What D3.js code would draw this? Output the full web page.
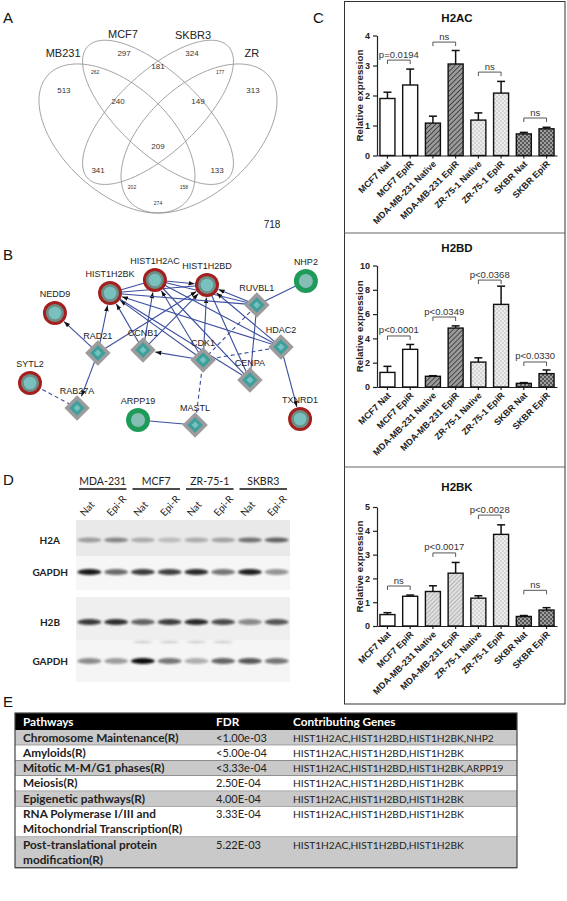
<!DOCTYPE html>
<html><head><meta charset="utf-8">
<script src="https://cdn.jsdelivr.net/npm/d3@7/dist/d3.min.js"></script>
<style>body{margin:0;background:#fff}svg{display:block}</style>
</head><body><svg id="fig" width="567" height="901"></svg>
<script>
// ================= DATA =================
// Panel A : Venn
const vennSets = ["MB231", "MCF7", "SKBR3", "ZR"];
const vennCounts = [513, 297, 324, 313, 262, 181, 177, 240, 149, 209, 341, 133, 202, 158, 274];
const vennSmall = [false, false, false, false, true, false, true, false, false, false, false, false, true, true, true];
const vennOutside = 718;
// Panel B : network
const netNodes = ["HIST1H2BK","HIST1H2AC","HIST1H2BD","NEDD9","SYTL2","RAD21","CCNB1","CDK1","CENPA","RUVBL1","HDAC2","RAB27A","ARPP19","MASTL","NHP2","TXNRD1"];
const netKinds = ["hist","hist","hist","hist","hist","dia","dia","dia","dia","dia","dia","dia","green","dia","green","hist"];
const netEdges = [
  ["RAD21","NEDD9","a"],["RAD21","RAB27A","a"],["RAD21","HIST1H2BK","a"],["RAD21","HIST1H2BD","a"],
  ["CCNB1","HIST1H2BK","a"],["CCNB1","HIST1H2AC","a"],["CCNB1","HIST1H2BD","a"],
  ["CDK1","CCNB1","a"],["CDK1","HIST1H2BK","a"],["CDK1","HIST1H2AC","a"],["CDK1","HIST1H2BD","a"],
  ["CENPA","HIST1H2BK","s"],["CENPA","HIST1H2AC","s"],["CENPA","HIST1H2BD","s"],["CENPA","RUVBL1","s"],
  ["RUVBL1","HIST1H2BK","s"],["RUVBL1","HIST1H2AC","s"],["RUVBL1","HIST1H2BD","a"],["RUVBL1","NHP2","s"],
  ["HDAC2","HIST1H2BK","a"],["HDAC2","HIST1H2AC","s"],["HDAC2","HIST1H2BD","a"],["HDAC2","TXNRD1","a"],
  ["HIST1H2BK","HIST1H2AC","s"],["HIST1H2BK","HIST1H2BD","s"],["HIST1H2AC","HIST1H2BD","a"],
  ["CDK1","RUVBL1","d"],["CDK1","HDAC2","d"],["CDK1","MASTL","d"],["SYTL2","RAB27A","d"],["ARPP19","MASTL","s"]
];
// Panel C : qPCR bars
const barCats = ["MCF7 Nat","MCF7 EpiR","MDA-MB-231 Native","MDA-MB-231 EpiR","ZR-75-1 Native","ZR-75-1 EpiR","SKBR Nat","SKBR EpiR"];
const h2acMean = [1.9, 2.35, 1.08, 3.05, 1.18, 2.08, 0.72, 0.89];
const h2acErr  = [0.21, 0.53, 0.23, 0.45, 0.24, 0.39, 0.05, 0.05];
const h2bdMean = [1.2, 3.1, 0.88, 4.85, 2.05, 6.8, 0.3, 1.1];
const h2bdErr  = [0.5, 0.4, 0.05, 0.18, 0.35, 1.5, 0.06, 0.3];
const h2bkMean = [0.48, 1.25, 1.45, 2.22, 1.17, 3.85, 0.4, 0.67];
const h2bkErr  = [0.08, 0.05, 0.24, 0.45, 0.1, 0.4, 0.04, 0.1];
const h2acTests = [[0,1,"p=0.0194",3.18],[2,3,"ns",3.78],[4,5,"ns",2.78],[6,7,"ns",1.25]];
const h2bdTests = [[0,1,"p<0.0001",4.2],[2,3,"p<0.0349",5.76],[4,5,"p<0.0368",8.8],[6,7,"p<0.0330",2.06]];
const h2bkTests = [[0,1,"ns",1.68],[2,3,"p<0.0017",3.07],[4,5,"p<0.0028",4.66],[6,7,"ns",1.5]];
// Panel D : western blot
const blotGroups = ["MDA-231","MCF7","ZR-75-1","SKBR3"];
const blotLanes = ["Nat","Epi-R","Nat","Epi-R","Nat","Epi-R","Nat","Epi-R"];
const blotRows = ["H2A","GAPDH","H2B","GAPDH"];
const bandH2A   = [0.35, 0.45, 0.28, 0.2, 0.28, 0.32, 0.55, 0.62];
const bandGAPDH1= [0.95, 0.6, 0.8, 0.78, 0.88, 0.55, 0.92, 0.42];
const bandH2B   = [0.8, 0.85, 0.62, 0.78, 0.88, 0.72, 0.45, 0.68];
const bandGAPDH2= [0.45, 0.38, 1.0, 0.55, 0.3, 0.62, 0.68, 0.55];
// Panel E : table
const tableHeader = ["Pathways","FDR","Contributing Genes"];
const pathways = [["Chromosome Maintenance(R)"],["Amyloids(R)"],["Mitotic M-M/G1 phases(R)"],["Meiosis(R)"],["Epigenetic pathways(R)"],["RNA Polymerase I/III and","Mitochondrial Transcription(R)"],["Post-translational protein","modification(R)"]];
const fdrs = ["<1.00e-03","<5.00e-04","<3.33e-04","2.50E-04","4.00E-04","3.33E-04","5.22E-03"];
const genes = ["HIST1H2AC,HIST1H2BD,HIST1H2BK,NHP2","HIST1H2AC,HIST1H2BD,HIST1H2BK","HIST1H2AC,HIST1H2BD,HIST1H2BK,ARPP19","HIST1H2AC,HIST1H2BD,HIST1H2BK","HIST1H2AC,HIST1H2BD,HIST1H2BK","HIST1H2AC,HIST1H2BD,HIST1H2BK","HIST1H2AC,HIST1H2BD,HIST1H2BK"];

// ================= LAYOUT =================
const F = "'Liberation Sans', Arial, sans-serif";
const FC = "Lato, 'Open Sans', sans-serif";
const svg = d3.select("#fig");
const defs = svg.append("defs");

// panel letters
[["A",3,23],["B",3,260],["C",313,23],["D",3,485],["E",3,707]].forEach(p=>{
  svg.append("text").attr("x",p[1]).attr("y",p[2]).text(p[0]).attr("font-family",F).attr("font-size",15).attr("fill","#111");
});

// ---------- A: Venn ----------
const vennEllipse = [[0.35,0.47,0.35,0.20,135],[0.50,0.57,0.36,0.15,135],[0.50,0.57,0.36,0.15,45],[0.65,0.47,0.35,0.20,45]];
const vennLabelPos = [[0.153,0.797],[0.372,0.870],[0.628,0.866],[0.843,0.797]];
const vennCountPos = [[0.156,0.655],[0.376,0.797],[0.624,0.797],[0.847,0.655],[0.270,0.724],[0.5,0.747],[0.727,0.724],[0.354,0.613],[0.646,0.613],[0.5,0.441],[0.281,0.350],[0.716,0.350],[0.405,0.284],[0.595,0.284],[0.5,0.223]];
const sx = d3.scaleLinear().domain([0.065,0.935]).range([39,277]);
const sy = d3.scaleLinear().domain([0.185,0.839]).range([213,42]);
const gA = svg.append("g");
const eLine = d3.line().x(d=>sx(d[0])).y(d=>sy(d[1])).curve(d3.curveLinearClosed);
vennEllipse.forEach(e=>{
  const th = e[4]*Math.PI/180;
  const pts = d3.range(0,360,2).map(t=>{const r=t*Math.PI/180;
    return [e[0]+e[2]*Math.cos(th)*Math.cos(r)-e[3]*Math.sin(th)*Math.sin(r), e[1]+e[2]*Math.sin(th)*Math.cos(r)+e[3]*Math.cos(th)*Math.sin(r)];});
  gA.append("path").attr("d",eLine(pts)).attr("fill","none").attr("stroke","#8a8a8a").attr("stroke-width",0.8);
});
gA.selectAll(".vl").data(vennSets).join("text").attr("x",(d,i)=>sx(vennLabelPos[i][0])).attr("y",(d,i)=>sy(vennLabelPos[i][1])+4)
  .attr("text-anchor","middle").attr("font-family",F).attr("font-size",11).attr("fill","#222").text(d=>d);
gA.selectAll(".vc").data(vennCounts).join("text").attr("x",(d,i)=>sx(vennCountPos[i][0])).attr("y",(d,i)=>sy(vennCountPos[i][1])+(vennSmall[i]?2:3))
  .attr("text-anchor","middle").attr("font-family",F).attr("font-size",(d,i)=>vennSmall[i]?5:8).attr("fill","#333").text(d=>d);
gA.append("text").attr("x",sx(0.917)).attr("y",228).attr("text-anchor","middle").attr("font-family",F).attr("font-size",10).attr("fill","#222").text(vennOutside);

// ---------- B: network ----------
const netPos = [[0.289,0.09],[0.451,0.0],[0.639,0.034],[0.09,0.228],[0.0,0.71],[0.245,0.503],[0.408,0.483],[0.625,0.552],[0.794,0.69],[0.819,0.172],[0.906,0.462],[0.17,0.883],[0.39,0.966],[0.596,1.0],[0.996,0.007],[0.975,0.959]];
const nx = d3.scaleLinear().domain([0,1]).range([30,307]);
const ny = d3.scaleLinear().domain([0,1]).range([280,425]);
const gB = svg.append("g");
defs.append("marker").attr("id","arr").attr("viewBox","0 -4 8 8").attr("refX",8).attr("refY",0)
  .attr("markerWidth",6).attr("markerHeight",6).attr("markerUnits","userSpaceOnUse").attr("orient","auto")
  .append("path").attr("d","M0,-3L8,0L0,3Z").attr("fill","#111");
const nodeIdx = n=>netNodes.indexOf(n);
netEdges.forEach(e=>{
  const s=netPos[nodeIdx(e[0])], t=netPos[nodeIdx(e[1])];
  const x1=nx(s[0]),y1=ny(s[1]),x2=nx(t[0]),y2=ny(t[1]);
  const L=Math.hypot(x2-x1,y2-y1), rr = e[2]==="a"?12.5:0;
  const ln = gB.append("line").attr("x1",x1).attr("y1",y1).attr("x2",x2-(x2-x1)*rr/L).attr("y2",y2-(y2-y1)*rr/L)
    .attr("stroke","#3c4f9e").attr("stroke-width",1.1);
  if(e[2]==="d") ln.attr("stroke-dasharray","4,3");
  if(e[2]==="a") ln.attr("marker-end","url(#arr)");
});
netNodes.forEach((n,i)=>{
  const cx=nx(netPos[i][0]), cy=ny(netPos[i][1]), k=netKinds[i];
  const g=gB.append("g").attr("transform",`translate(${cx},${cy})`);
  if(k==="hist"){
    g.append("circle").attr("r",12).attr("fill","#a3201f");
    g.append("circle").attr("r",9).attr("fill","#6f8c86");
    g.append("circle").attr("r",6.3).attr("fill","#79c1bf");
  } else if(k==="green"){
    g.append("circle").attr("r",12).attr("fill","#1f9b59");
    g.append("circle").attr("r",7).attr("fill","#86bdb5");
  } else {
    g.append("rect").attr("x",-9).attr("y",-9).attr("width",18).attr("height",18).attr("transform","rotate(45)").attr("fill","#9c9c9c");
    g.append("rect").attr("x",-5.5).attr("y",-5.5).attr("width",11).attr("height",11).attr("transform","rotate(45)").attr("fill","#3f9f9c");
    g.append("rect").attr("x",-2.5).attr("y",-2.5).attr("width",5).attr("height",5).attr("transform","rotate(45)").attr("fill","#74c2be");
  }
});
netNodes.forEach((n,i)=>{
  const cx=nx(netPos[i][0]), cy=ny(netPos[i][1]), k=netKinds[i];
  gB.append("text").attr("x",cx).attr("y",cy-(k==="dia"?14:16)).attr("text-anchor","middle").attr("font-family",F)
    .attr("font-size",9).attr("fill","#222").text(n);
});

// ---------- C: bar charts ----------
function pat(id, bg, draw){
  const p=defs.append("pattern").attr("id",id).attr("patternUnits","userSpaceOnUse").attr("width",4).attr("height",4);
  p.append("rect").attr("width",4).attr("height",4).attr("fill",bg); draw(p); return `url(#${id})`;
}
const fWhite="#ffffff";
const fHatchDark = (()=>{const p=defs.append("pattern").attr("id","hd").attr("patternUnits","userSpaceOnUse").attr("width",3.5).attr("height",3.5).attr("patternTransform","rotate(45)");
  p.append("rect").attr("width",3.5).attr("height",3.5).attr("fill","#9a9a9a"); p.append("line").attr("x1",0).attr("y1",0).attr("x2",0).attr("y2",3.5).attr("stroke","#333").attr("stroke-width",1.6); return "url(#hd)";})();
const fHatchLight = (()=>{const p=defs.append("pattern").attr("id","hl").attr("patternUnits","userSpaceOnUse").attr("width",3).attr("height",3).attr("patternTransform","rotate(45)");
  p.append("rect").attr("width",3).attr("height",3).attr("fill","#e0e0e0"); p.append("line").attr("x1",0).attr("y1",0).attr("x2",0).attr("y2",3).attr("stroke","#8a8a8a").attr("stroke-width",1); return "url(#hl)";})();
const fDots = pat("dt","#ededed",p=>{p.append("circle").attr("cx",1).attr("cy",1).attr("r",0.7).attr("fill","#a8a8a8");p.append("circle").attr("cx",3).attr("cy",3).attr("r",0.7).attr("fill","#a8a8a8");});
const fCheck = pat("ck","#a0a0a0",p=>{p.append("rect").attr("width",2).attr("height",2).attr("fill","#555");p.append("rect").attr("x",2).attr("y",2).attr("width",2).attr("height",2).attr("fill","#555");});

function barPanel(o){
  const g=svg.append("g");
  const x=d3.scaleBand().domain(barCats).range([377,557]).paddingInner(0.34).paddingOuter(0.13);
  const y=d3.scaleLinear().domain([0,o.ymax]).range([o.y0,o.y1]);
  g.append("text").attr("x",457).attr("y",o.titleY).attr("text-anchor","middle").attr("font-family",F).attr("font-weight","bold").attr("font-size",11.5).attr("fill","#111").text(o.title);
  const ya=g.append("g").attr("transform","translate(377,0)").call(d3.axisLeft(y).tickValues(d3.range(0,o.ymax+0.001,o.step)).tickSize(4).tickSizeOuter(0).tickFormat(d3.format("d")));
  ya.selectAll("text").attr("font-family",F).attr("font-weight","bold").attr("font-size",9).attr("fill","#222");
  ya.selectAll("line,path").attr("stroke","#222").attr("stroke-width",1.2);
  g.append("text").attr("transform",`translate(363,${(o.y0+o.y1)/2}) rotate(-90)`).attr("text-anchor","middle").attr("font-family",F)
    .attr("font-weight","bold").attr("font-size",9.8).attr("fill","#222").text("Relative expression");
  const xa=g.append("g").attr("transform",`translate(0,${o.y0})`).call(d3.axisBottom(x).tickSize(3).tickSizeOuter(0));
  xa.selectAll("line,path").attr("stroke","#222").attr("stroke-width",1.2);
  xa.selectAll("text").attr("font-family",F).attr("font-weight","bold").attr("font-size",9).attr("fill","#222")
    .attr("text-anchor","end").attr("dy",0).attr("y",0).attr("transform","translate(4,9) rotate(-45)");
  const bw=x.bandwidth();
  barCats.forEach((c,i)=>{
    const cx=x(c)+bw/2, top=y(o.mean[i]), et=y(o.mean[i]+o.err[i]);
    g.append("line").attr("x1",cx).attr("x2",cx).attr("y1",top).attr("y2",et).attr("stroke","#111").attr("stroke-width",1.5);
    g.append("line").attr("x1",cx-4).attr("x2",cx+4).attr("y1",et).attr("y2",et).attr("stroke","#111").attr("stroke-width",1.5);
    g.append("rect").attr("x",x(c)).attr("y",top).attr("width",bw).attr("height",o.y0-top).attr("fill",o.fills[i]).attr("stroke","#111").attr("stroke-width",1.4);
  });
  o.tests.forEach(t=>{
    const a=x(barCats[t[0]])+bw/2, b=x(barCats[t[1]])+bw/2, yy=y(t[3]);
    g.append("path").attr("d",`M${a},${yy+4}V${yy}H${b}V${yy+4}`).attr("fill","none").attr("stroke","#444").attr("stroke-width",0.9);
    g.append("text").attr("x",(a+b)/2).attr("y",yy-2.5).attr("text-anchor","middle").attr("font-family",F).attr("font-size",9.5).attr("fill","#333").text(t[2]);
  });
}
barPanel({title:"H2AC",titleY:22,ymax:4,step:1,y0:155.5,y1:35.5,mean:h2acMean,err:h2acErr,tests:h2acTests,
  fills:[fWhite,fWhite,fHatchDark,fHatchDark,fDots,fDots,fCheck,fCheck]});
barPanel({title:"H2BD",titleY:252,ymax:10,step:2,y0:387,y1:265.5,mean:h2bdMean,err:h2bdErr,tests:h2bdTests,
  fills:[fWhite,fWhite,fHatchDark,fHatchDark,fDots,fDots,fCheck,fCheck]});
barPanel({title:"H2BK",titleY:491,ymax:5,step:1,y0:626,y1:507,mean:h2bkMean,err:h2bkErr,tests:h2bkTests,
  fills:[fWhite,fWhite,fHatchLight,fHatchLight,fDots,fDots,fCheck,fCheck]});
// frame
svg.append("rect").attr("x",344.5).attr("y",1.5).attr("width",220.5).attr("height",702.5).attr("fill","none").attr("stroke","#333").attr("stroke-width",1);
[233,467].forEach(yy=>svg.append("line").attr("x1",344.5).attr("x2",565).attr("y1",yy).attr("y2",yy).attr("stroke","#666").attr("stroke-width",1));

// ---------- D: western blot ----------
const gD = svg.append("g");
const lane = d3.scaleBand().domain(d3.range(blotLanes.length)).range([76,290]);
const grp = d3.scaleBand().domain(blotGroups).range([76,290]);
const strips = [[520,556,"#e9e9e9",540,2.6],[556,590,"#f6f6f6",572,3],[597,640,"#efefef",622,3],[640,682,"#f5f5f5",661,3]];
const bandSets = [bandH2A,bandGAPDH1,bandH2B,bandGAPDH2];
defs.append("filter").attr("id","blur").attr("x","-30%").attr("y","-100%").attr("width","160%").attr("height","300%")
  .append("feGaussianBlur").attr("stdDeviation","1.3 1.1");
strips.forEach((s,r)=>{
  gD.append("rect").attr("x",76).attr("y",s[0]).attr("width",214).attr("height",s[1]-s[0]).attr("fill",s[2]);
  bandSets[r].forEach((v,i)=>{
    gD.append("ellipse").attr("cx",lane(i)+lane.bandwidth()/2).attr("cy",s[3]).attr("rx",12).attr("ry",s[4])
      .attr("fill","#111").attr("opacity",v).attr("filter","url(#blur)");
  });
  gD.append("text").attr("x",r%2===0?60:68).attr("y",s[3]+3.5).attr("text-anchor","end").attr("font-family",FC).attr("font-weight","bold")
    .attr("font-size",10).attr("fill","#222").text(blotRows[r]);
});
[2,3,4,5].forEach(i=>gD.append("ellipse").attr("cx",lane(i)+lane.bandwidth()/2).attr("cy",642).attr("rx",10).attr("ry",1.2).attr("fill","#555").attr("opacity",0.25).attr("filter","url(#blur)"));
blotGroups.forEach(gname=>{
  const cx=grp(gname)+grp.bandwidth()/2;
  gD.append("text").attr("x",cx).attr("y",485).attr("text-anchor","middle").attr("font-family",FC).attr("font-size",10.5).attr("fill","#222").text(gname);
  gD.append("line").attr("x1",grp(gname)+3).attr("x2",grp(gname)+grp.bandwidth()-3).attr("y1",489).attr("y2",489).attr("stroke","#111").attr("stroke-width",1.5);
});
blotLanes.forEach((l,i)=>{
  const cx=lane(i)+lane.bandwidth()/2;
  gD.append("text").attr("transform",`translate(${cx-5},${517}) rotate(-48)`).attr("font-family",FC).attr("font-size",10).attr("fill","#222").text(l);
});

// ---------- E: table ----------
const gE = svg.append("g");
const tx0=15, tx1=517, colX=[23,216,293];
const lineH=15.3;
gE.append("rect").attr("x",tx0).attr("y",713).attr("width",tx1-tx0).attr("height",17).attr("fill","#000");
tableHeader.forEach((h,i)=>gE.append("text").attr("x",colX[i]).attr("y",726).attr("font-family",FC).attr("font-weight","bold").attr("font-size",11.8).attr("fill","#fff").text(h));
let ry=730;
pathways.forEach((p,r)=>{
  const h=p.length*lineH;
  gE.append("rect").attr("x",tx0).attr("y",ry).attr("width",tx1-tx0).attr("height",h).attr("fill",r%2===0?"#c9c9c9":"#ffffff");
  gE.append("line").attr("x1",tx0).attr("x2",tx1).attr("y1",ry+h).attr("y2",ry+h).attr("stroke","#555").attr("stroke-width",1);
  p.forEach((ln,j)=>gE.append("text").attr("x",colX[0]).attr("y",ry+11.5+j*lineH).attr("font-family",FC).attr("font-weight","bold").attr("font-size",11.8).attr("fill","#222").text(ln));
  gE.append("text").attr("x",colX[1]).attr("y",ry+11.5).attr("font-family",FC).attr("font-size",11).attr("fill","#222").text(fdrs[r]);
  gE.append("text").attr("x",colX[2]).attr("y",ry+11.5).attr("font-family",FC).attr("font-size",10.2).attr("fill","#222").text(genes[r]);
  ry+=h;
});
gE.append("rect").attr("x",tx0).attr("y",713).attr("width",tx1-tx0).attr("height",ry-713).attr("fill","none").attr("stroke","#444").attr("stroke-width",1.2);
</script></body></html>
